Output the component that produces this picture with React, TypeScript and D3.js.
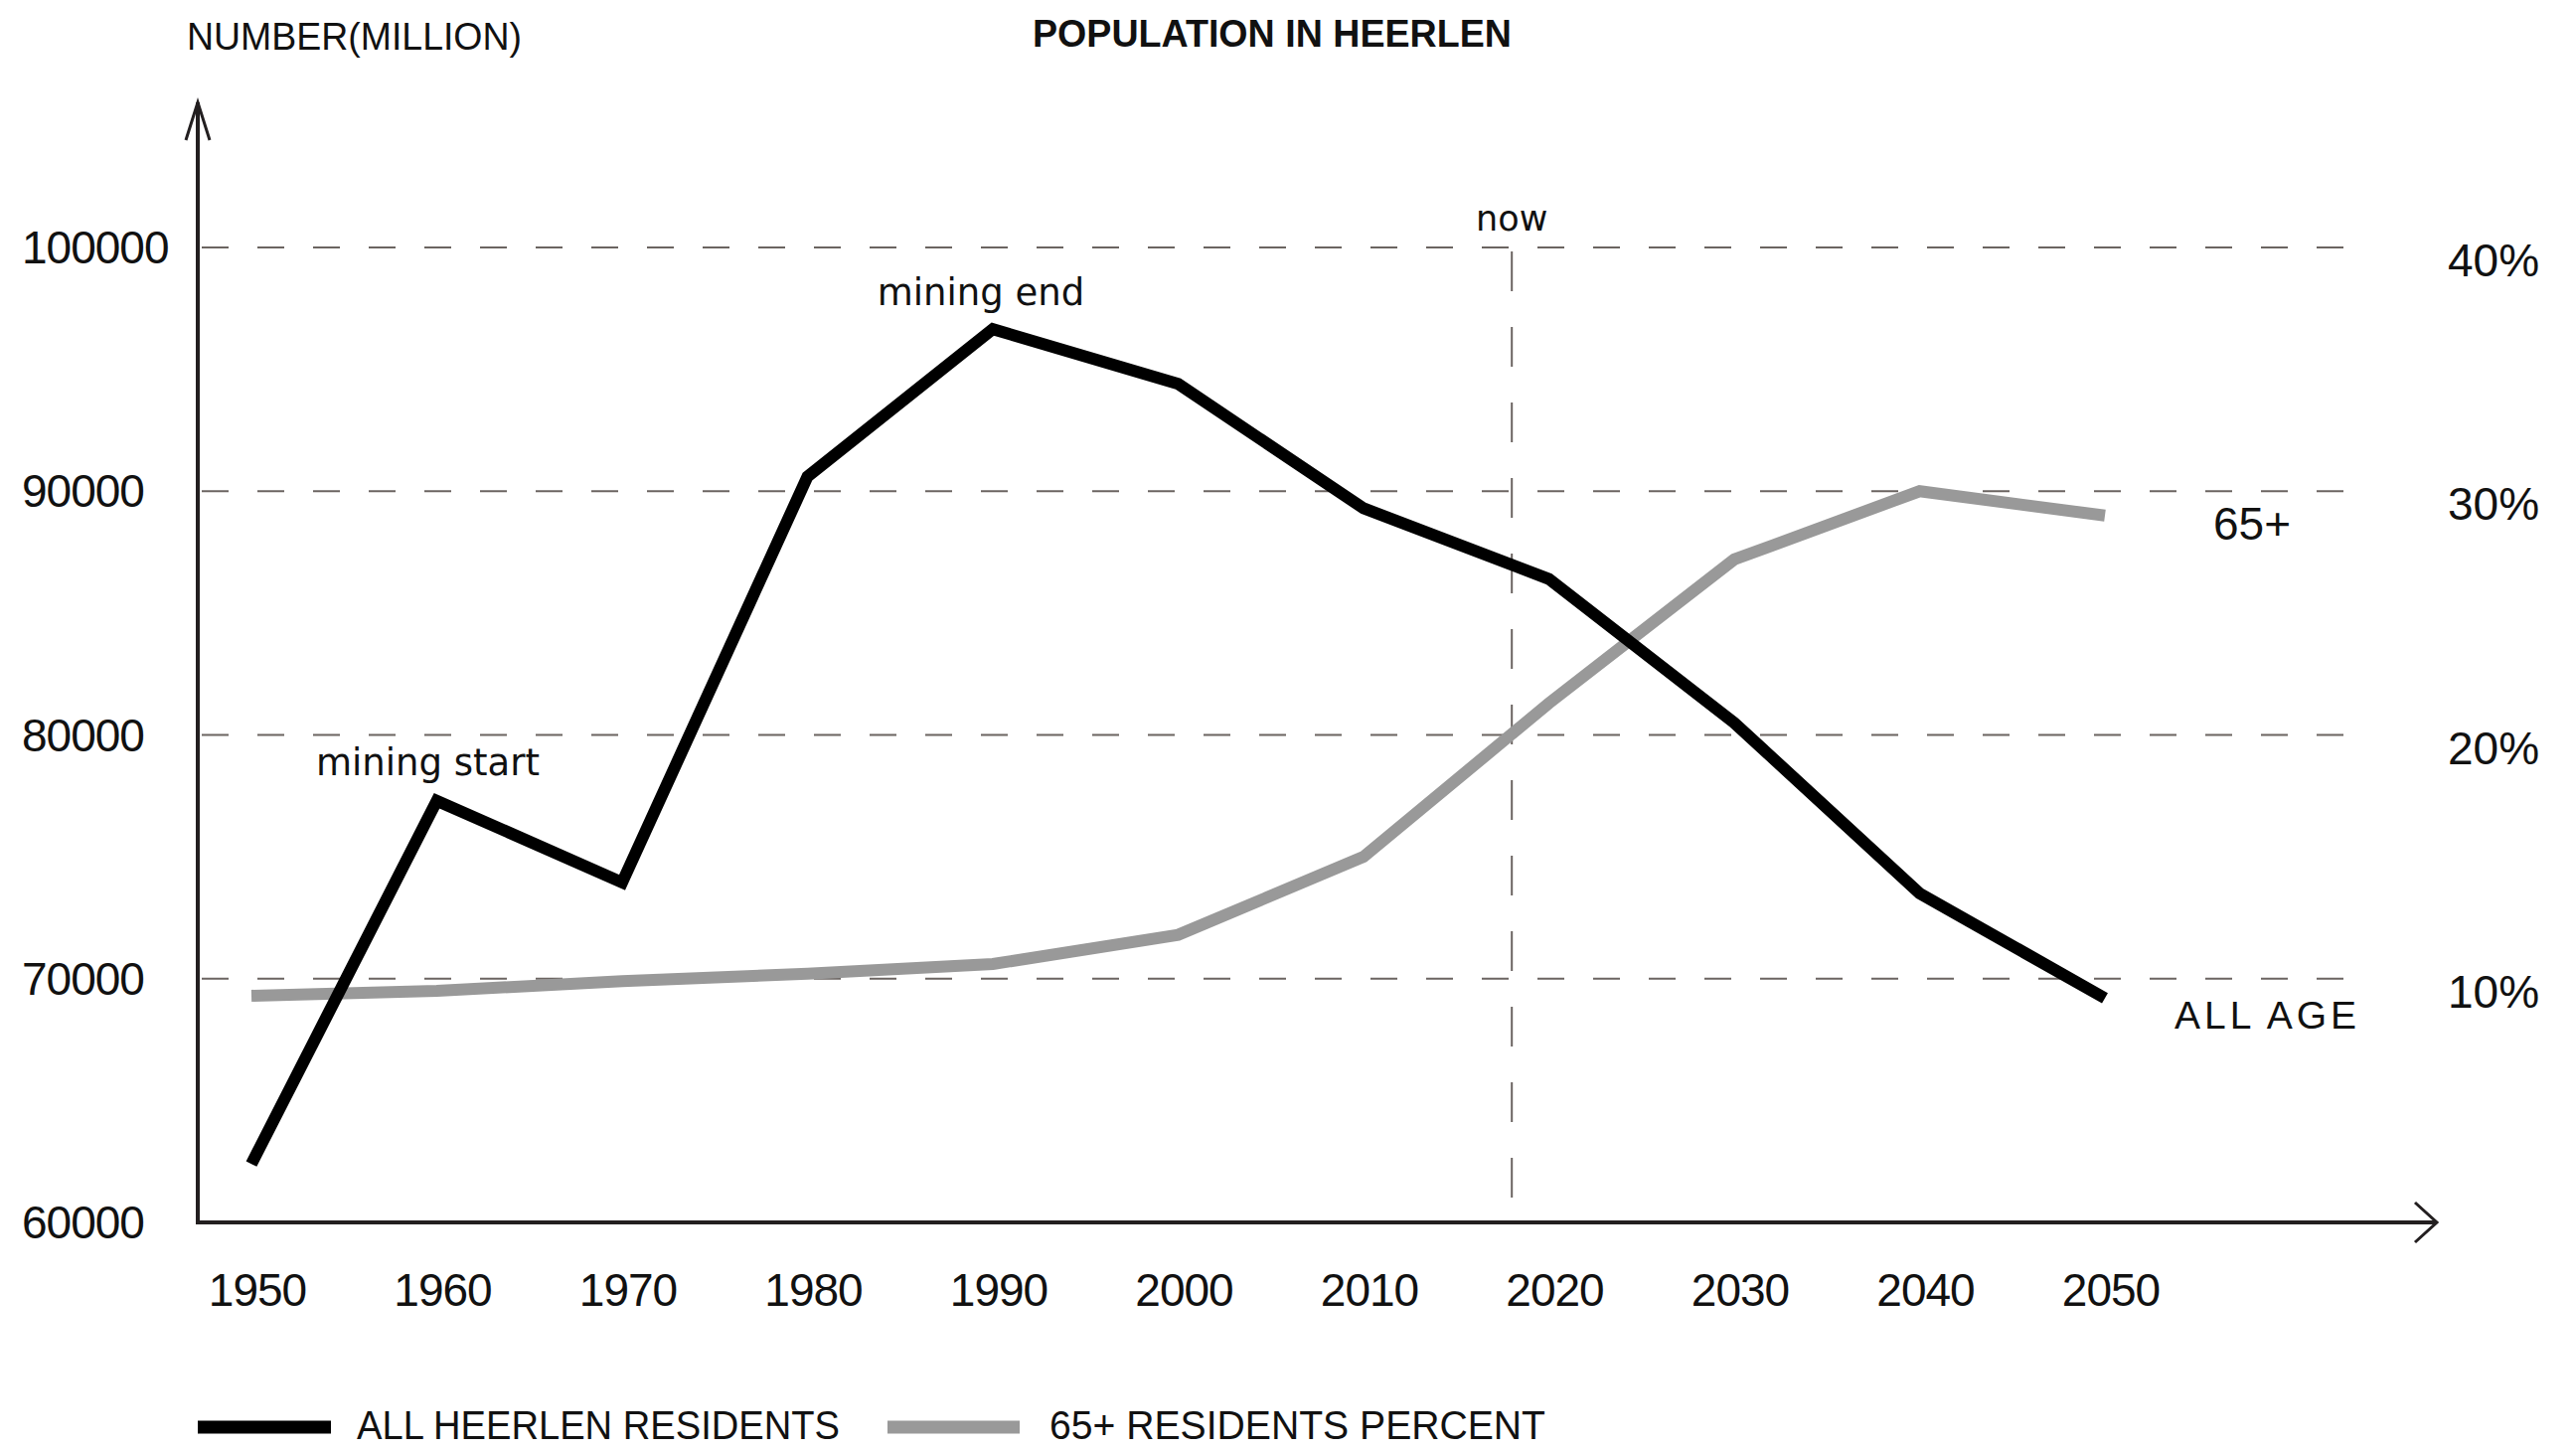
import React from 'react';
import * as d3 from 'd3';

// data
const years = [1950, 1960, 1970, 1980, 1990, 2000, 2010, 2020, 2030, 2040, 2050];
const allResidents = [62400, 77300, 73950, 90600, 96650, 94400, 89300, 86400, 80500, 73500, 69200];
const seniorPercent = [9.3, 9.5, 9.9, 10.2, 10.6, 11.8, 15.0, 21.3, 27.2, 30.0, 29.0];
const leftTicks = [60000, 70000, 80000, 90000, 100000];
const gridTicks = [70000, 80000, 90000, 100000];
const rightTicks = [10, 20, 30, 40];
const nowYear = 2018;

const W = 2592;
const H = 1459;
const axisLeft = 199;
const axisBottom = 1230;
const axisRightEnd = 2452;
const gridEnd = 2375;

const tickFont = '"Liberation Sans", Arial, sans-serif';
const noteFont = '"DejaVu Sans", sans-serif';

export default function App() {
  const x = d3.scaleLinear().domain([1950, 2050]).range([253, 2118]);
  const yLeft = d3.scaleLinear().domain([60000, 100000]).range([axisBottom, 249]);
  const yRight = d3.scaleLinear().domain([0, 40]).range([axisBottom, 249]);

  const allLine = d3.line<number>()
    .x((_, i) => x(years[i]))
    .y(d => yLeft(d));
  const seniorLine = d3.line<number>()
    .x((_, i) => x(years[i]))
    .y(d => yRight(d));

  const lastX = x(years[years.length - 1]);

  return (
    <svg width={W} height={H} style={{ position: 'fixed', left: 0, top: 0, background: '#fff', display: 'block' }}>
      <rect width={W} height={H} fill="#fff" />

      {/* header texts */}
      <text x={188} y={50} fontFamily={tickFont} fontSize={39} textLength={337} lengthAdjust="spacingAndGlyphs" fill="#111">
        NUMBER(MILLION)
      </text>
      <text x={1039} y={47} fontFamily={tickFont} fontSize={38} fontWeight="bold" textLength={482} lengthAdjust="spacingAndGlyphs" fill="#111">
        POPULATION IN HEERLEN
      </text>

      {/* grid */}
      {gridTicks.map(t => (
        <line key={t} x1={axisLeft + 4} x2={gridEnd} y1={yLeft(t)} y2={yLeft(t)}
          stroke="#6b6461" strokeWidth={2} strokeDasharray="27 29" />
      ))}
      <line x1={x(nowYear)} x2={x(nowYear)} y1={253} y2={axisBottom}
        stroke="#6b6461" strokeWidth={2} strokeDasharray="40 36" />
      <text x={x(nowYear)} y={232} textAnchor="middle" fontFamily={noteFont} fontSize={35} fill="#111">now</text>

      {/* axes */}
      <path d={`M${axisLeft},${axisBottom} V103`} stroke="#231f20" strokeWidth={4} fill="none" />
      <path d={`M${axisLeft - 12},141 L${axisLeft},103 L${axisLeft + 12},141`} stroke="#231f20" strokeWidth={3} fill="none" />
      <path d={`M${axisLeft - 2},${axisBottom} H${axisRightEnd}`} stroke="#231f20" strokeWidth={4} fill="none" />
      <path d={`M${axisRightEnd - 22},${axisBottom - 20} L${axisRightEnd},${axisBottom} L${axisRightEnd - 22},${axisBottom + 20}`}
        stroke="#231f20" strokeWidth={3} fill="none" />

      {/* left ticks */}
      {leftTicks.map(t => (
        <text key={t} x={22} y={yLeft(t)} dominantBaseline="central" fontFamily={tickFont} fontSize={46}
          letterSpacing={-1} fill="#111">{t}</text>
      ))}
      {/* right ticks */}
      {rightTicks.map(t => (
        <text key={t} x={2463} y={yRight(t) + 13} dominantBaseline="central" fontFamily={tickFont} fontSize={46}
          fill="#111">{`${t}%`}</text>
      ))}
      {/* x ticks */}
      {years.map(yr => (
        <text key={yr} x={x(yr) + 6} y={1298} textAnchor="middle" dominantBaseline="central" fontFamily={tickFont}
          fontSize={46} letterSpacing={-1} fill="#111">{yr}</text>
      ))}

      {/* series */}
      <path d={seniorLine(seniorPercent) ?? ''} fill="none" stroke="#999999" strokeWidth={12} strokeLinejoin="miter" />
      <path d={allLine(allResidents) ?? ''} fill="none" stroke="#000" strokeWidth={12} strokeLinejoin="miter" />

      {/* annotations */}
      <text x={x(1960) - 9} y={yLeft(allResidents[1]) - 26} textAnchor="middle" fontFamily={noteFont} fontSize={37} fill="#111">
        mining start
      </text>
      <text x={x(1990) - 12} y={yLeft(allResidents[4]) - 24} textAnchor="middle" fontFamily={noteFont} fontSize={37} fill="#111">
        mining end
      </text>
      <text x={lastX + 109} y={yRight(seniorPercent[10]) + 24} fontFamily={tickFont} fontSize={46} fill="#111">65+</text>
      <text x={gridEnd} y={1035} textAnchor="end" fontFamily={tickFont} fontSize={39} letterSpacing={4} fill="#111">ALL AGE</text>

      {/* legend */}
      <line x1={199} x2={333} y1={1436} y2={1436} stroke="#000" strokeWidth={13} />
      <text x={359} y={1448} fontFamily={tickFont} fontSize={40} textLength={486} lengthAdjust="spacingAndGlyphs" fill="#111">
        ALL HEERLEN RESIDENTS
      </text>
      <line x1={893} x2={1026} y1={1436} y2={1436} stroke="#999999" strokeWidth={13} />
      <text x={1056} y={1448} fontFamily={tickFont} fontSize={40} textLength={499} lengthAdjust="spacingAndGlyphs" fill="#111">
        65+ RESIDENTS PERCENT
      </text>
    </svg>
  );
}
